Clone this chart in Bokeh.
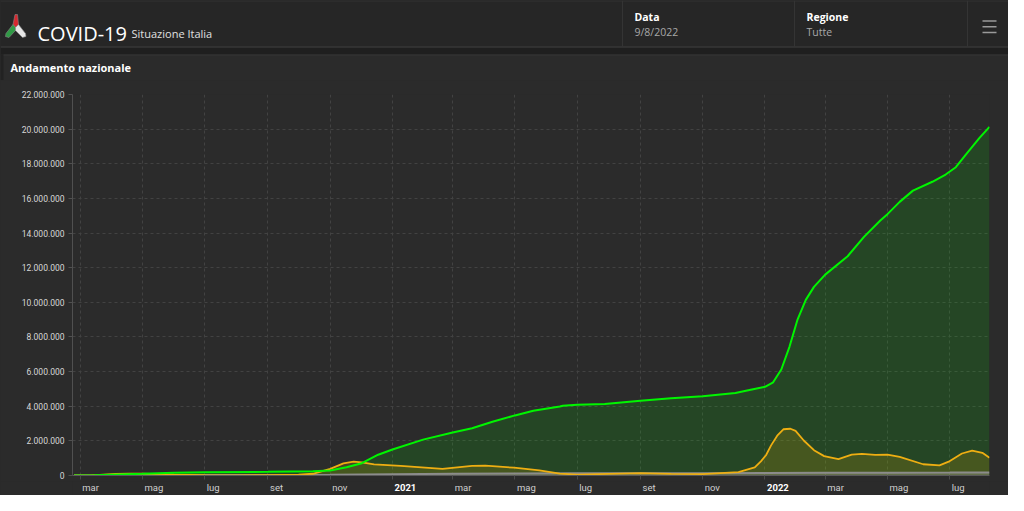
import pandas as pd
from bokeh.plotting import figure
from bokeh.models import FixedTicker, Range1d
from bokeh.layouts import column
from bokeh.embed import file_html
from bokeh.resources import INLINE
from bokeh.core.properties import value

# ---------------- data ----------------
guariti_dates = [
    "2020-02-24", "2020-03-15", "2020-04-01", "2020-05-01", "2020-06-01", "2020-07-01",
    "2020-09-01", "2020-10-15", "2020-11-01", "2020-11-17", "2020-12-02", "2020-12-18",
    "2021-01-01", "2021-01-31", "2021-03-01", "2021-03-20", "2021-04-09", "2021-05-01",
    "2021-05-19", "2021-06-14", "2021-06-17", "2021-07-01", "2021-07-28", "2021-09-01",
    "2021-10-01", "2021-11-01", "2021-12-03", "2021-12-18", "2022-01-01", "2022-01-09",
    "2022-01-17", "2022-01-25", "2022-02-02", "2022-02-10", "2022-02-18", "2022-03-01",
    "2022-03-23", "2022-04-08", "2022-04-24", "2022-05-01", "2022-05-13", "2022-05-26",
    "2022-06-14", "2022-06-27", "2022-07-07", "2022-07-17", "2022-07-30", "2022-08-09",
]
guariti = [
    0, 20000, 50000, 100000, 160000, 190000,
    210000, 245000, 290000, 480000, 710000, 1200000,
    1500000, 2070000, 2480000, 2730000, 3100000, 3470000,
    3740000, 3980000, 4030000, 4090000, 4130000, 4310000,
    4460000, 4580000, 4760000, 4950000, 5120000, 5380000,
    6120000, 7430000, 9020000, 10140000, 10890000, 11600000,
    12660000, 13780000, 14720000, 15090000, 15800000, 16450000,
    16960000, 17380000, 17800000, 18540000, 19480000, 20130000,
]

positivi_dates = [
    "2020-02-24", "2020-03-10", "2020-03-20", "2020-04-05", "2020-04-19", "2020-05-01",
    "2020-05-15", "2020-06-01", "2020-07-01", "2020-08-01", "2020-09-01", "2020-10-01",
    "2020-10-15", "2020-11-01", "2020-11-14", "2020-11-24", "2020-12-02", "2020-12-14",
    "2021-01-09", "2021-02-19", "2021-03-20", "2021-04-02", "2021-04-30", "2021-05-25",
    "2021-06-14", "2021-07-01", "2021-08-01", "2021-09-01", "2021-10-01", "2021-11-01",
    "2021-12-06", "2021-12-22", "2021-12-28", "2022-01-02", "2022-01-07", "2022-01-13",
    "2022-01-19", "2022-01-26", "2022-01-31", "2022-02-08", "2022-02-18", "2022-02-28",
    "2022-03-14", "2022-03-27", "2022-04-06", "2022-04-19", "2022-05-01", "2022-05-13",
    "2022-06-05", "2022-06-21", "2022-06-30", "2022-07-13", "2022-07-23", "2022-08-02",
    "2022-08-09",
]
positivi = [
    0, 8000, 40000, 90000, 108000, 100000,
    75000, 42000, 15000, 12500, 27000, 51000,
    100000, 380000, 700000, 800000, 760000, 640000,
    560000, 380000, 560000, 565000, 450000, 290000,
    110000, 50000, 95000, 135000, 95000, 85000,
    200000, 470000, 820000, 1170000, 1740000, 2300000,
    2670000, 2700000, 2580000, 2020000, 1460000, 1120000,
    950000, 1210000, 1250000, 1190000, 1210000, 1080000,
    650000, 580000, 800000, 1270000, 1440000, 1310000,
    1030000,
]

deceduti_dates = [
    "2020-02-24", "2020-03-15", "2020-04-01", "2020-05-01", "2020-06-01", "2020-09-01",
    "2020-11-01", "2020-12-01", "2021-01-01", "2021-03-01", "2021-05-01", "2021-07-01",
    "2021-11-01", "2022-01-01", "2022-03-01", "2022-05-01", "2022-07-01", "2022-08-09",
]
deceduti = [
    0, 1800, 13000, 28000, 33500, 35500,
    39000, 56000, 74000, 98000, 121000, 127500,
    132000, 137500, 155000, 164000, 168500, 173000,
]

y_ticks = [0, 2000000, 4000000, 6000000, 8000000, 10000000, 12000000,
           14000000, 16000000, 18000000, 20000000, 22000000]
y_tick_labels = ["0", "2.000.000", "4.000.000", "6.000.000", "8.000.000", "10.000.000",
                 "12.000.000", "14.000.000", "16.000.000", "18.000.000", "20.000.000",
                 "22.000.000"]

x_tick_dates = ["2020-03-01", "2020-05-01", "2020-07-01", "2020-09-01", "2020-11-01",
                "2021-01-01", "2021-03-01", "2021-05-01", "2021-07-01", "2021-09-01",
                "2021-11-01", "2022-01-01", "2022-03-01", "2022-05-01", "2022-07-01"]
x_tick_labels = ["mar", "mag", "lug", "set", "nov", "2021", "mar", "mag", "lug", "set",
                 "nov", "2022", "mar", "mag", "lug"]

x_start = "2020-02-22 12:00"
x_end = "2022-08-09"

# ---------------- helpers ----------------
def ms(d):
    return int(pd.Timestamp(d).value // 1000000)


def no_align(fig):
    if "frame_align" in type(fig).properties():
        fig.frame_align = False


FONT = "Open Sans"
CARD = "#2b2b2b"
HEAD = "#262626"
W = 1008
BL, BR = 72, 19

# ---------------- header figure ----------------
HH = 80
h = figure(width=W, height=HH, x_range=Range1d(0, W), y_range=Range1d(HH, 0),
           x_axis_location=None, y_axis_location=None, toolbar_location=None,
           output_backend="svg", min_border=0, min_border_left=0, min_border_right=0,
           min_border_top=0, min_border_bottom=0, outline_line_color=None,
           background_fill_color=CARD, border_fill_color=CARD)
h.grid.visible = False
no_align(h)

h.quad(left=0, right=W, top=0, bottom=46, fill_color=HEAD, line_color=None)
h.quad(left=0, right=W, top=47, bottom=54, fill_color="#1f1f1f", line_color=None)
h.quad(left=0, right=3, top=54, bottom=HH, fill_color="#222222", line_color=None)
h.segment(x0=0, y0=46.5, x1=W, y1=46.5, line_color="#3c3c3c", line_width=1)
h.segment(x0=3, y0=54.5, x1=W, y1=54.5, line_color="#363636", line_width=1)
h.segment(x0=0, y0=0.5, x1=W, y1=0.5, line_color="#333333", line_width=1)
for sx in (622, 794, 967):
    h.segment(x0=sx, y0=0, x1=sx, y1=46, line_color="#343434", line_width=1)

# logo (three arms)
h.patch(x=[15.0, 12.5, 14.5, 17.0, 18.0], y=[27, 24, 14, 14, 24],
        fill_color="#d8282f", line_color="#888888", line_width=0.6)
h.patch(x=[15.0, 12.5, 5.5, 5.0, 8.5, 15.0], y=[27, 24, 33, 36, 37, 30],
        fill_color="#2f9a45", line_color="#888888", line_width=0.6)
h.patch(x=[15.0, 18.0, 25.0, 25.5, 22.0, 15.0], y=[27, 24, 33, 36, 37, 30],
        fill_color="#e6e6e6", line_color="#888888", line_width=0.6)

h.text(x=[37], y=[33], text=["COVID-19"], text_font=value(FONT), text_font_size="20px",
       text_color="#ffffff", text_baseline="alphabetic", text_align="left")
h.text(x=[131], y=[32.5], text=["Situazione Italia"], text_font=value(FONT),
       text_font_size="11px", text_color="#e0e0e0", text_baseline="alphabetic",
       text_align="left")
h.text(x=[634, 806], y=[16.5, 16.5], text=["Data", "Regione"], text_font=value(FONT),
       text_font_size="10.5px", text_font_style="bold", text_color="#ffffff",
       text_baseline="middle", text_align="left")
h.text(x=[634, 806], y=[31, 31], text=["9/8/2022", "Tutte"], text_font=value(FONT),
       text_font_size="10.5px", text_color="#a8a8a8", text_baseline="middle",
       text_align="left")
for hy in (20.5, 26.2, 32):
    h.segment(x0=982, y0=hy, x1=996, y1=hy, line_color="#9a9a9a", line_width=1.5)

h.text(x=[10], y=[67], text=["Andamento nazionale"], text_font=value(FONT),
       text_font_size="11px", text_font_style="bold", text_color="#ffffff",
       text_baseline="middle", text_align="left")

# ---------------- main chart ----------------
PH = 401
x_range = Range1d(ms(x_start), ms(x_end))
p = figure(width=W, height=PH, x_axis_type="datetime",
           x_range=x_range, y_range=Range1d(0, 22000000),
           toolbar_location=None, output_backend="svg",
           min_border_left=BL, min_border_right=BR, min_border_top=14,
           min_border_bottom=6, outline_line_color=None,
           background_fill_color=CARD, border_fill_color=CARD)
no_align(p)

gd = pd.to_datetime(guariti_dates)
od = pd.to_datetime(positivi_dates)
dd = pd.to_datetime(deceduti_dates)

p.varea(x=gd, y1=0, y2=guariti, fill_color="#00ff00", fill_alpha=0.13)
p.varea(x=od, y1=0, y2=positivi, fill_color="#f0b400", fill_alpha=0.16)
p.varea(x=dd, y1=0, y2=deceduti, fill_color="#9a9a9a", fill_alpha=0.35)
p.line(x=dd, y=deceduti, line_color="#8c8c8c", line_width=2)
p.line(x=od, y=positivi, line_color="#eeae12", line_width=1.8)
p.line(x=gd, y=guariti, line_color="#00f500", line_width=2)

x_ticks = [ms(d) for d in x_tick_dates]

# grid
p.xgrid.ticker = FixedTicker(ticks=x_ticks)
p.ygrid.ticker = FixedTicker(ticks=y_ticks)
for g in (p.xgrid, p.ygrid):
    g.grid_line_color = "#424242"
    g.grid_line_dash = "3 3"
    g.grid_line_width = 1

# y axis
p.yaxis.ticker = FixedTicker(ticks=y_ticks)
p.yaxis.major_label_overrides = {t: l for t, l in zip(y_ticks, y_tick_labels)}
p.yaxis.major_label_text_font = "Roboto"
p.yaxis.major_label_text_font_size = "8.5px"
p.yaxis.major_label_text_color = "#d8d8d8"
p.yaxis.major_label_standoff = 4
p.yaxis.axis_line_color = "#505050"
p.yaxis.major_tick_line_color = "#505050"
p.yaxis.major_tick_out = 4
p.yaxis.major_tick_in = 0
p.yaxis.minor_tick_line_color = None

# x axis: line and small tick marks; labels in the strip below, left-aligned at ticks
p.xaxis.ticker = FixedTicker(ticks=[], minor_ticks=x_ticks)
p.xaxis.axis_line_color = "#5a5a5a"
p.xaxis.major_tick_line_color = None
p.xaxis.minor_tick_line_color = "#4a4a4a"
p.xaxis.minor_tick_out = 4
p.xaxis.minor_tick_in = 0

# ---------------- x tick label strip (shares the chart's x scale) ----------------
SH = 14
s = figure(width=W, height=SH, x_range=x_range, y_range=Range1d(0, SH),
           x_axis_location=None, y_axis_location=None, toolbar_location=None,
           output_backend="svg", min_border_left=BL, min_border_right=BR,
           min_border_top=0, min_border_bottom=0, outline_line_color=None,
           background_fill_color=CARD, border_fill_color=CARD)
s.grid.visible = False
no_align(s)

mx = [pd.Timestamp(d) + pd.Timedelta(days=2) for d, l in zip(x_tick_dates, x_tick_labels)
      if not l.isdigit()]
ml = [l for l in x_tick_labels if not l.isdigit()]
yx = [pd.Timestamp(d) + pd.Timedelta(days=2) for d, l in zip(x_tick_dates, x_tick_labels)
      if l.isdigit()]
yl = [l for l in x_tick_labels if l.isdigit()]
s.text(x=mx, y=[8.5] * len(mx), text=ml, text_font=value("Roboto"),
       text_font_size="9.5px", text_color="#d0d0d0", text_align="left",
       text_baseline="middle")
s.text(x=yx, y=[8.5] * len(yx), text=yl, text_font=value("Roboto"),
       text_font_size="9.5px", text_font_style="bold", text_color="#ffffff",
       text_align="left", text_baseline="middle")

layout = column(h, p, s, spacing=0, styles={"background-color": CARD})
open("out.html", "w").write(file_html(layout, INLINE))
